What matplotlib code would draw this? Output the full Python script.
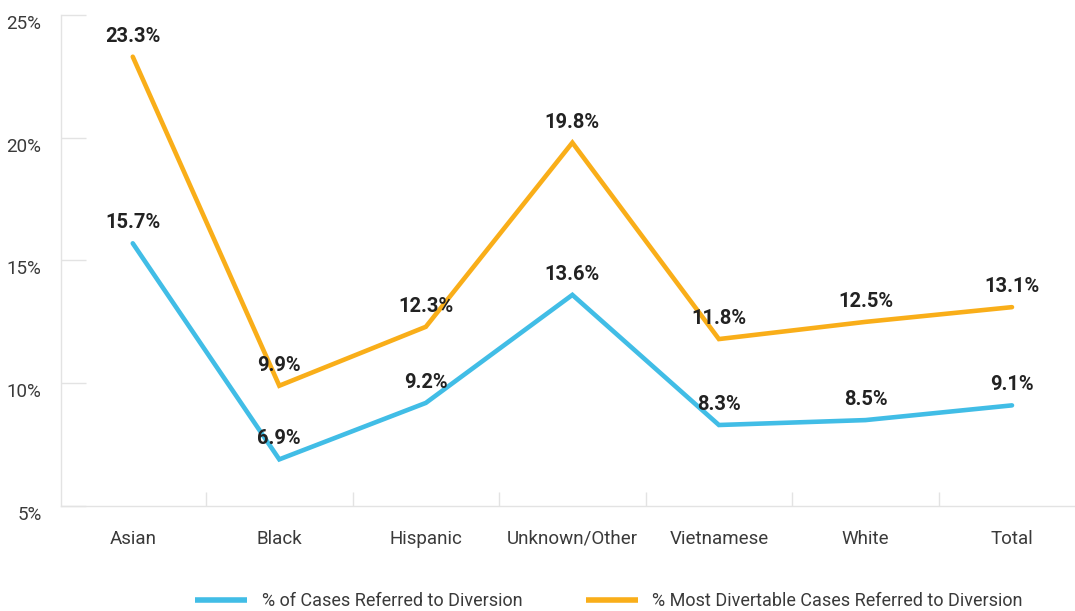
import matplotlib.pyplot as plt
import matplotlib.transforms as mtransforms
from matplotlib.ticker import FixedLocator

plt.rcParams['font.family'] = ['Roboto', 'DejaVu Sans']

categories = ['Asian', 'Black', 'Hispanic', 'Unknown/Other', 'Vietnamese', 'White', 'Total']
referred = [15.7, 6.9, 9.2, 13.6, 8.3, 8.5, 9.1]
most_divertable = [23.3, 9.9, 12.3, 19.8, 11.8, 12.5, 13.1]

blue = '#41bde6'
orange = '#f9ae19'
text_col = '#3a3a3a'
grid_col = '#e3e3e3'

fig = plt.figure(figsize=(10.75, 6.11), dpi=100)
ax = fig.add_axes([0.0567, 0.1718, 0.9433, 0.8037])

x = range(len(categories))
ax.plot(x, referred, color=blue, lw=3.3, solid_capstyle='round', solid_joinstyle='miter',
        label='% of Cases Referred to Diversion')
ax.plot(x, most_divertable, color=orange, lw=3.3, solid_capstyle='round', solid_joinstyle='miter',
        label='% Most Divertable Cases Referred to Diversion')

for xs, v in zip(x, referred):
    ax.annotate(f'{v}%', (xs, v), xytext=(0, 8), textcoords='offset points',
                ha='center', va='bottom', fontsize=14.5, fontweight='bold', color='#222222')
for xs, v in zip(x, most_divertable):
    ax.annotate(f'{v}%', (xs, v), xytext=(0, 8), textcoords='offset points',
                ha='center', va='bottom', fontsize=14.5, fontweight='bold', color='#222222')

ax.set_xlim(-0.49, 6.43)
ax.set_ylim(5, 25)
ax.set_yticks([5, 10, 15, 20, 25])
ax.set_yticklabels(['5%', '10%', '15%', '20%', '25%'])
ax.set_xticks(list(x))
ax.set_xticklabels(categories)
ax.xaxis.set_minor_locator(FixedLocator([i + 0.5 for i in range(6)]))

ax.tick_params(axis='y', direction='in', length=18, width=1, color=grid_col,
               labelsize=13.5, labelcolor=text_col, pad=14)
ax.tick_params(axis='x', which='major', length=0, labelsize=13.5, labelcolor=text_col, pad=17)
ax.tick_params(axis='x', which='minor', direction='in', length=10, width=1, color=grid_col)

# y labels sit a little below their tick
shift = mtransforms.ScaledTranslation(0, -7 / 100, fig.dpi_scale_trans)
for lbl in ax.get_yticklabels():
    lbl.set_transform(lbl.get_transform() + shift)

for s in ['top', 'right']:
    ax.spines[s].set_visible(False)
for s in ['left', 'bottom']:
    ax.spines[s].set_color(grid_col)
    ax.spines[s].set_linewidth(1)

leg = fig.legend(loc='lower center', bbox_to_anchor=(0.5665, -0.025), ncol=2, frameon=False,
                 fontsize=13, handlelength=2.9, columnspacing=3.5, handletextpad=0.8)
for t in leg.get_texts():
    t.set_color(text_col)
for h in leg.get_lines():
    h.set_linewidth(4)
    h.set_solid_capstyle('butt')

fig.savefig('out.png', dpi=100)
